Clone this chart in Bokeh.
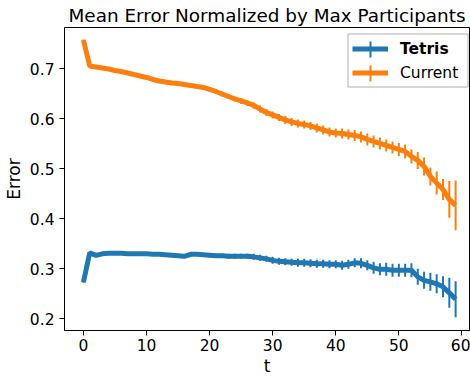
from bokeh.plotting import figure
from bokeh.models import (Range1d, Legend, LegendItem, FixedTicker,
                          PrintfTickFormatter, ColumnDataSource)
from bokeh.embed import file_html
from bokeh.resources import INLINE

t = list(range(60))

tetris = [0.273, 0.332, 0.327, 0.330, 0.331, 0.331, 0.331, 0.330, 0.330, 0.330,
          0.330, 0.329, 0.329, 0.328, 0.327, 0.326, 0.325, 0.329, 0.329, 0.328,
          0.327, 0.326, 0.326, 0.325, 0.325, 0.325, 0.325, 0.324, 0.322, 0.320,
          0.317, 0.315, 0.314, 0.313, 0.312, 0.312, 0.311, 0.310, 0.310, 0.309,
          0.309, 0.307, 0.309, 0.312, 0.311, 0.307, 0.302, 0.299, 0.299, 0.297,
          0.297, 0.297, 0.297, 0.284, 0.277, 0.274, 0.270, 0.264, 0.252, 0.239]
tetris_err = [0.001, 0.001, 0.001, 0.001, 0.001, 0.002, 0.002, 0.002, 0.002, 0.002,
              0.002, 0.002, 0.003, 0.003, 0.003, 0.003, 0.003, 0.003, 0.003, 0.003,
              0.004, 0.004, 0.004, 0.005, 0.005, 0.005, 0.005, 0.006, 0.006, 0.006,
              0.007, 0.007, 0.007, 0.007, 0.008, 0.008, 0.008, 0.008, 0.008, 0.008,
              0.008, 0.009, 0.009, 0.009, 0.010, 0.010, 0.012, 0.012, 0.013, 0.013,
              0.013, 0.013, 0.014, 0.016, 0.017, 0.018, 0.019, 0.021, 0.030, 0.036]

current = [0.758, 0.706, 0.704, 0.702, 0.700, 0.697, 0.695, 0.692, 0.689, 0.686,
           0.683, 0.679, 0.676, 0.674, 0.672, 0.671, 0.669, 0.667, 0.665, 0.663,
           0.659, 0.655, 0.650, 0.645, 0.640, 0.636, 0.632, 0.627, 0.620, 0.613,
           0.608, 0.603, 0.598, 0.594, 0.591, 0.589, 0.586, 0.582, 0.578, 0.574,
           0.572, 0.571, 0.569, 0.567, 0.564, 0.559, 0.555, 0.551, 0.547, 0.543,
           0.539, 0.535, 0.525, 0.517, 0.505, 0.485, 0.472, 0.459, 0.439, 0.427]
current_err = [0.001, 0.001, 0.001, 0.001, 0.001, 0.002, 0.002, 0.002, 0.002, 0.002,
               0.002, 0.002, 0.003, 0.003, 0.003, 0.003, 0.003, 0.003, 0.003, 0.004,
               0.004, 0.004, 0.005, 0.005, 0.005, 0.006, 0.006, 0.006, 0.007, 0.007,
               0.007, 0.007, 0.008, 0.008, 0.008, 0.008, 0.008, 0.009, 0.009, 0.009,
               0.009, 0.010, 0.010, 0.011, 0.011, 0.012, 0.012, 0.012, 0.012, 0.012,
               0.013, 0.014, 0.014, 0.017, 0.018, 0.018, 0.023, 0.021, 0.037, 0.050]

x_ticks = [0, 10, 20, 30, 40, 50, 60]
y_ticks = [0.2, 0.3, 0.4, 0.5, 0.6, 0.7]

BLUE = "#1f77b4"
ORANGE = "#ff7f0e"
FONT = "DejaVu Sans"

X0, X1 = -3.0, 61.2
Y0, Y1 = 0.1766, 0.783
FW, FH = 405, 303

p = figure(frame_width=FW, frame_height=FH,
           x_range=Range1d(X0, X1), y_range=Range1d(Y0, Y1),
           output_backend="svg", toolbar_location=None,
           min_border_left=56, min_border_right=1, min_border_top=0, min_border_bottom=38,
           title="Mean Error Normalized by Max Participants")
p.title.text_font = FONT
p.title.text_font_size = "18.4px"
p.title.text_font_style = "normal"
p.title.text_color = "black"
p.title.align = "center"
p.title.offset = 2
p.title.standoff = 4

p.xgrid.visible = False
p.ygrid.visible = False
p.outline_line_color = "black"
p.outline_line_width = 1

for ax in (p.xaxis[0], p.yaxis[0]):
    ax.axis_line_color = "black"
    ax.major_tick_line_color = "black"
    ax.major_tick_out = 5
    ax.major_tick_in = 0
    ax.minor_tick_line_color = None
    ax.major_label_text_font = FONT
    ax.major_label_text_font_size = "15.5px"
    ax.major_label_text_color = "black"
    ax.axis_label_text_font = FONT
    ax.axis_label_text_font_size = "17px"
    ax.axis_label_text_font_style = "normal"
    ax.axis_label_text_color = "black"

p.xaxis.ticker = FixedTicker(ticks=x_ticks)
p.yaxis.ticker = FixedTicker(ticks=y_ticks)
p.yaxis.formatter = PrintfTickFormatter(format="%.1f")
p.xaxis.axis_label = "t"
p.yaxis.axis_label = "Error"
p.xaxis.axis_label_standoff = 2
p.yaxis.axis_label_standoff = 3
p.xaxis.major_label_standoff = 3
p.yaxis.major_label_standoff = 5

lines = {}
crosses = {}
for name, vals, errs, col in (("Tetris", tetris, tetris_err, BLUE),
                              ("Current", current, current_err, ORANGE)):
    lo = [v - e for v, e in zip(vals, errs)]
    hi = [v + e for v, e in zip(vals, errs)]
    src = ColumnDataSource(dict(t=t, v=vals, lo=lo, hi=hi))
    p.segment(x0="t", y0="lo", x1="t", y1="hi", source=src, line_color=col, line_width=2)
    lines[name] = p.line("t", "v", source=src, line_color=col, line_width=5)
    # zero-size markers: invisible on the plot, draw the errorbar "+" in the legend
    crosses[name] = p.scatter("t", "v", source=src, marker="cross", size=0,
                              line_color=col, line_width=2)


# legend frame (pixel offsets inside the plot frame, converted to range units)
def fx(px):
    return X0 + px / FW * (X1 - X0)


def fy(py_from_top):
    return Y1 - py_from_top / FH * (Y1 - Y0)


common = dict(margin=0, label_text_font=FONT, label_text_font_size="15.5px",
              label_text_color="black", border_line_alpha=0, background_fill_alpha=0)

# line glyphs for both series, plain "Current" label
row_legend = Legend(items=[LegendItem(label="", renderers=[lines["Tetris"]]),
                           LegendItem(label="Current", renderers=[lines["Current"]])],
                    location=(283, 243), glyph_width=36, glyph_height=19, label_height=19,
                    label_width=63, label_standoff=12, padding=5, spacing=5,
                    label_text_font_style="normal", **common)
p.add_layout(row_legend)

# bold "Tetris" label with the errorbar tick, laid over the first row
bold_legend = Legend(items=[LegendItem(label="Tetris", renderers=[crosses["Tetris"]])],
                     location=(286, 261.5), glyph_width=40, glyph_height=40, label_height=40,
                     label_standoff=10, padding=0, spacing=0,
                     label_text_font_style="bold", **common)
p.add_layout(bold_legend)

# errorbar tick for the second row
tick_legend = Legend(items=[LegendItem(label="", renderers=[crosses["Current"]])],
                     location=(286, 237.5), glyph_width=40, glyph_height=40, label_height=40,
                     label_standoff=10, padding=0, spacing=0,
                     label_text_font_style="normal", **common)
p.add_layout(tick_legend)

# legend border as a closed polyline, drawn on the overlay level above the legends
bx0, bx1 = fx(283.5), fx(403.5)
by0, by1 = fy(6.5), fy(59.5)
p.line(x=[bx0, bx1, bx1, bx0, bx0], y=[by0, by0, by1, by1, by0],
       line_color="#b0b0b0", line_width=1, level="overlay")

open("out.html", "w").write(file_html(p, INLINE))
